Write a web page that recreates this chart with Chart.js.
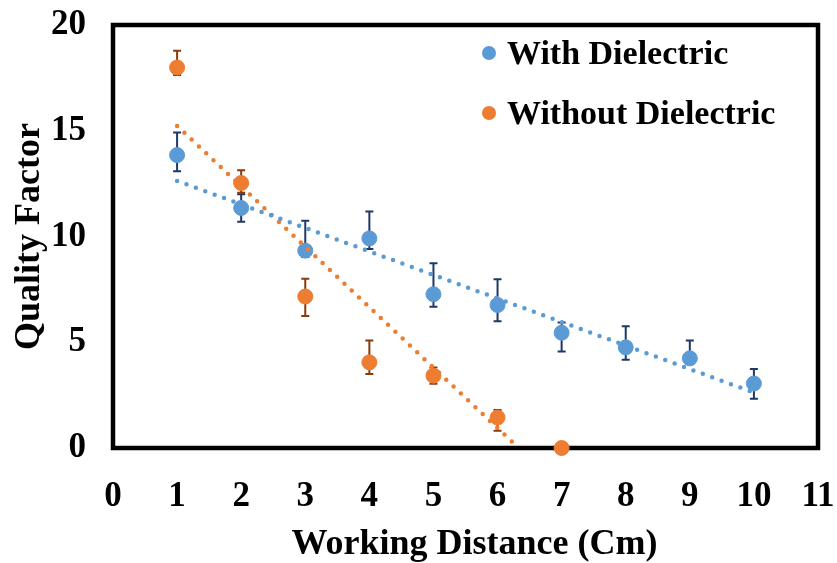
<!DOCTYPE html>
<html>
<head>
<meta charset="utf-8">
<script src="https://cdn.jsdelivr.net/npm/chart.js@4/dist/chart.umd.min.js"></script>
<style>
  html, body { margin: 0; padding: 0; background: #fff; }
  #wrap { width: 837px; height: 563px; }
</style>
</head>
<body>
<div id="wrap"><canvas id="c" width="837" height="563"></canvas></div>
<script>
// ---- data ----
const distances = [1, 2, 3, 4, 5, 6, 7, 8, 9, 10];
const withDielectric = [13.85, 11.35, 9.33, 9.91, 7.27, 6.76, 5.45, 4.76, 4.24, 3.05];
const withErrPlus  = [1.07, 0.65, 1.42, 1.27, 1.47, 1.22, 0.48, 1.0, 0.84, 0.69];
const withErrMinus = [0.76, 0.65, 0.30, 0.50, 0.59, 0.77, 0.89, 0.59, 0.25, 0.72];

const distancesNo = [1, 2, 3, 4, 5, 6, 7];
const withoutDielectric = [17.99, 12.53, 7.16, 4.05, 3.42, 1.44, 0];
const withoutErrPlus  = [0.79, 0.60, 0.84, 1.03, 0.39, 0.36, 0];
const withoutErrMinus = [0.35, 0.46, 0.92, 0.55, 0.38, 0.62, 0];

// linear trendline end points
const trendWithX = [1, 10];
const trendWithY = [12.63, 2.62];
const trendWithoutX = [1, 6.33];
const trendWithoutY = [15.23, 0];

const xTicks = [0, 1, 2, 3, 4, 5, 6, 7, 8, 9, 10, 11];
const yTicks = [0, 5, 10, 15, 20];
const xTitle = 'Working Distance (Cm)';
const yTitle = 'Quality Factor';

const BLUE = '#5B9BD5', ORANGE = '#ED7D31';
const BLUE_ERR = '#1F3864', ORANGE_ERR = '#843C0C';
const FONT = '"Liberation Serif", "Times New Roman", serif';

const pts = (xs, ys) => xs.map((x, i) => ({ x: x, y: ys[i] }));

const boxPlugin = {
  id: 'box',
  beforeDatasetsDraw(chart) {
    const { ctx, chartArea: a } = chart;
    ctx.save();
    ctx.strokeStyle = '#000';
    ctx.lineWidth = 4.5;
    ctx.strokeRect(a.left, a.top, a.right - a.left, a.bottom - a.top);
    ctx.restore();
    // error bars
    const xs = chart.scales.x, ys = chart.scales.y;
    chart.data.datasets.forEach(ds => {
      if (!ds.errPlus) return;
      ctx.save();
      ctx.strokeStyle = ds.errColor;
      ctx.lineWidth = 2;
      ds.data.forEach((p, i) => {
        const up = ds.errPlus[i], dn = ds.errMinus[i];
        if (!up && !dn) return;
        const px = xs.getPixelForValue(p.x);
        const yt = ys.getPixelForValue(p.y + up);
        const yb = ys.getPixelForValue(p.y - dn);
        ctx.beginPath();
        ctx.moveTo(px, yt); ctx.lineTo(px, yb);
        ctx.moveTo(px - 4, yt); ctx.lineTo(px + 4, yt);
        ctx.moveTo(px - 4, yb); ctx.lineTo(px + 4, yb);
        ctx.stroke();
      });
      ctx.restore();
    });
  },
  afterDraw(chart) {
    const { ctx, chartArea: a } = chart;
    // x-axis title (slightly right of centre, as in the reference)
    ctx.save();
    ctx.font = 'bold 36px ' + FONT;
    ctx.fillStyle = '#000';
    ctx.textAlign = 'center';
    ctx.textBaseline = 'middle';
    ctx.fillText(xTitle, (a.left + a.right) / 2 + 9, 545);
    ctx.restore();
    // legend inside plot area
    const items = chart.data.datasets.filter(d => d.showInLegend);
    ctx.save();
    ctx.font = 'bold 34px ' + FONT;
    ctx.textBaseline = 'middle';
    ctx.textAlign = 'left';
    items.forEach((d, i) => {
      const y = 53 + i * 60;
      ctx.fillStyle = d.backgroundColor;
      ctx.beginPath();
      ctx.arc(489, y, 7, 0, Math.PI * 2);
      ctx.fill();
      ctx.fillStyle = '#000';
      ctx.fillText(d.label, 507, y + 2);
    });
    ctx.restore();
  }
};

new Chart(document.getElementById('c'), {
  type: 'scatter',
  data: {
    datasets: [
      { label: 'Trend With', type: 'line', data: pts(trendWithX, trendWithY),
        borderColor: BLUE, borderWidth: 4.5, borderDash: [0, 10], borderCapStyle: 'round',
        pointRadius: 0, fill: false, order: 0, clip: false },
      { label: 'Trend Without', type: 'line', data: pts(trendWithoutX, trendWithoutY),
        borderColor: ORANGE, borderWidth: 4.5, borderDash: [0, 10], borderCapStyle: 'round',
        pointRadius: 0, fill: false, order: 0, clip: false },
      { label: 'With Dielectric', data: pts(distances, withDielectric),
        backgroundColor: BLUE, borderColor: BLUE, pointRadius: 7.5, pointHoverRadius: 7.5,
        errPlus: withErrPlus, errMinus: withErrMinus, errColor: BLUE_ERR,
        showInLegend: true, order: 1, clip: false },
      { label: 'Without Dielectric', data: pts(distancesNo, withoutDielectric),
        backgroundColor: ORANGE, borderColor: ORANGE, pointRadius: 7.5, pointHoverRadius: 7.5,
        errPlus: withoutErrPlus, errMinus: withoutErrMinus, errColor: ORANGE_ERR,
        showInLegend: true, order: 1, clip: false }
    ]
  },
  options: {
    responsive: false,
    animation: false,
    devicePixelRatio: 1,
    layout: { padding: { top: 25, right: 19, left: 0, bottom: 0 } },
    plugins: { legend: { display: false }, tooltip: { enabled: false } },
    scales: {
      x: {
        type: 'linear', min: 0, max: 11,
        afterBuildTicks: s => { s.ticks = xTicks.map(v => ({ value: v })); },
        afterFit: s => { s.height = 115; s.paddingLeft = 0; s.paddingRight = 0; },
        grid: { display: false, drawTicks: false },
        border: { display: false },
        ticks: { color: '#000', padding: 28, font: { family: FONT, size: 35, weight: 'bold' } },
        title: { display: false, text: xTitle }
      },
      y: {
        type: 'linear', min: 0, max: 20,
        afterBuildTicks: s => { s.ticks = yTicks.map(v => ({ value: v })); },
        afterFit: s => { s.width = 113; s.paddingTop = 0; s.paddingBottom = 0; },
        grid: { display: false, drawTicks: false },
        border: { display: false },
        ticks: { color: '#000', padding: 27, font: { family: FONT, size: 35, weight: 'bold' } },
        title: { display: true, text: yTitle, color: '#000',
                 padding: { top: 12, bottom: 0 }, font: { family: FONT, size: 36, weight: 'bold', lineHeight: 1 } }
      }
    }
  },
  plugins: [boxPlugin]
});
</script>
</body>
</html>
